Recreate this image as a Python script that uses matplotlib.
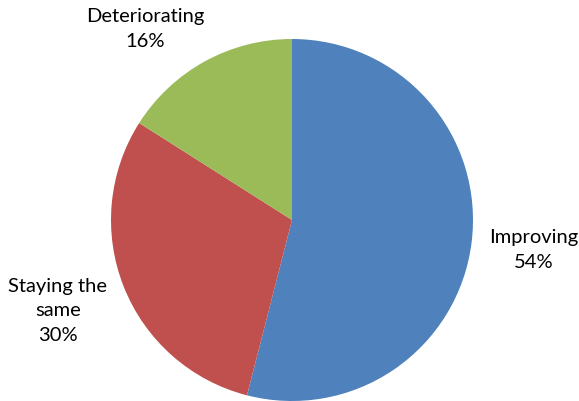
import matplotlib
matplotlib.use("Agg")
import matplotlib.pyplot as plt

categories = ["Improving", "Staying the\nsame", "Deteriorating"]
values = [54, 30, 16]
colors = ["#4F81BD", "#C0504D", "#9BBB59"]

plt.rcParams['font.family'] = ['Lato', 'DejaVu Sans']

W, H = 579, 401
fig = plt.figure(figsize=(W / 100, H / 100), dpi=100)
ax = fig.add_axes([0, 0, 1, 1])

# pixel-style coordinates with the origin at bottom-left
cx, cy, r = 292, H - 220, 181
wedges, _ = ax.pie(values, colors=colors, startangle=90, counterclock=False,
                   radius=r, center=(cx, cy),
                   wedgeprops=dict(edgecolor='none', linewidth=0))
ax.set_xlim(0, W)
ax.set_ylim(0, H)
ax.set_aspect('equal')
ax.axis('off')

label_pos = [(534, 250), (58, 311), (145, 29)]
for (x, y), name, v in zip(label_pos, categories, values):
    ax.text(x, H - y, f"{name}\n{v}%", ha='center', va='center', fontsize=14.5,
            color='black', linespacing=1.55)

fig.savefig("out.png", dpi=100)
